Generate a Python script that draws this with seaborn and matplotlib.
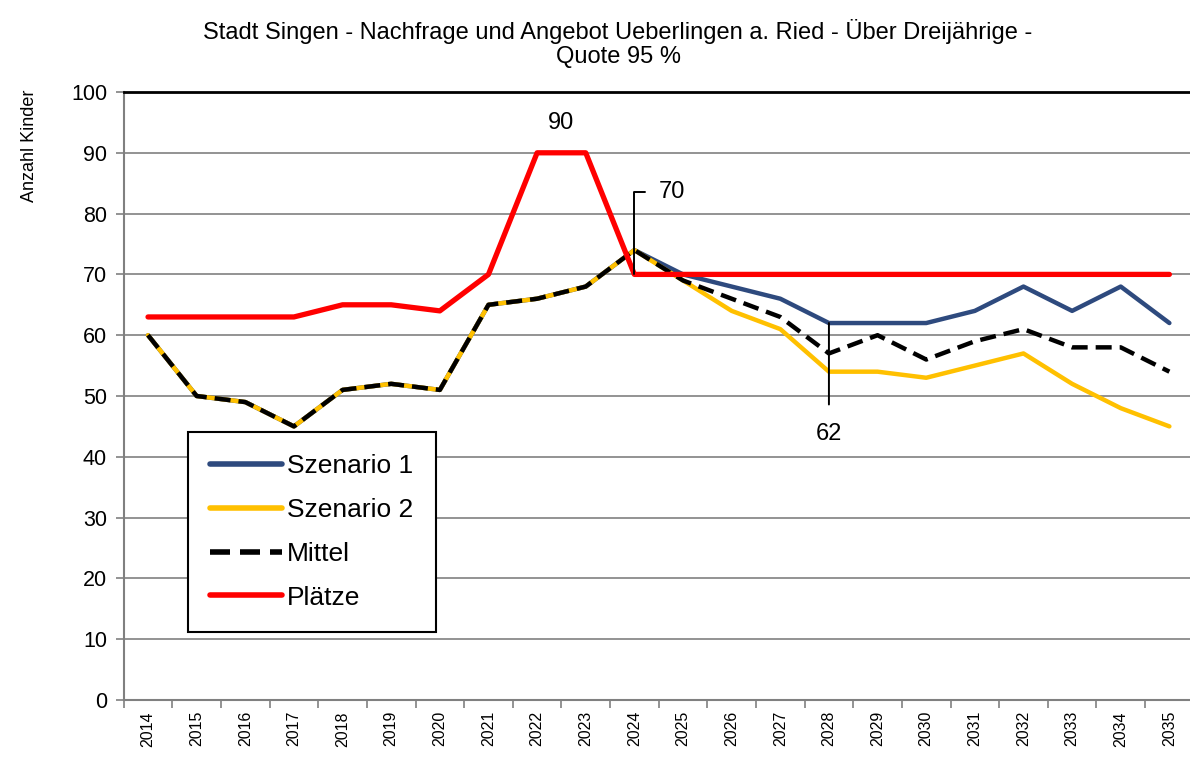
import pandas as pd
import matplotlib
matplotlib.use("Agg")
import matplotlib.pyplot as plt
import seaborn as sns

years = list(range(2014, 2036))
szenario1 = [60, 50, 49, 45, 51, 52, 51, 65, 66, 68, 74, 70, 68, 66, 62, 62, 62, 64, 68, 64, 68, 62]
szenario2 = [60, 50, 49, 45, 51, 52, 51, 65, 66, 68, 74, 69, 64, 61, 54, 54, 53, 55, 57, 52, 48, 45]
mittel = [60, 50, 49, 45, 51, 52, 51, 65, 66, 68, 74, 69, 66, 63, 57, 60, 56, 59, 61, 58, 58, 54]
plaetze = [63, 63, 63, 63, 65, 65, 64, 70, 90, 90, 70, 70, 70, 70, 70, 70, 70, 70, 70, 70, 70, 70]

df = pd.DataFrame({"Jahr": years, "Szenario 1": szenario1, "Szenario 2": szenario2,
                   "Mittel": mittel, "Plätze": plaetze})

sns.set_style("white")
plt.rcParams["font.family"] = ["Liberation Sans", "DejaVu Sans"]
plt.rcParams["text.color"] = "black"
plt.rcParams["xtick.color"] = "black"
plt.rcParams["ytick.color"] = "black"

fig = plt.figure(figsize=(11.9, 7.83), dpi=100)
ax = fig.add_axes([123.7 / 1190, 1 - 700 / 783, 1070 / 1190, 608 / 783])

sns.lineplot(data=df, x="Jahr", y="Szenario 1", color="#2E4A7E", lw=3.2, label="Szenario 1", ax=ax)
sns.lineplot(data=df, x="Jahr", y="Szenario 2", color="#FFC000", lw=3.2, label="Szenario 2", ax=ax)
sns.lineplot(data=df, x="Jahr", y="Mittel", color="black", lw=3.2, label="Mittel", ax=ax,
             linestyle=(0, (3.6, 1.8)))
sns.lineplot(data=df, x="Jahr", y="Plätze", color="#FF0000", lw=3.8, label="Plätze", ax=ax)

ax.set_xlim(years[0] - 0.5, years[-1] + 0.5)
ax.set_ylim(0, 100)
ax.set_yticks(range(0, 101, 10))
ax.set_xticks(years)
ax.set_xticklabels([str(y) for y in years], rotation=90, fontsize=11.5)
ax.set_xticks([y + 0.5 for y in [years[0] - 1] + years], minor=True)
ax.tick_params(axis="x", which="both", bottom=True)
ax.tick_params(axis="x", which="major", length=0, pad=8)
ax.tick_params(axis="x", which="minor", length=6, width=1.2, color="#808080", direction="out")
ax.tick_params(axis="y", left=True, length=6, width=1.2, color="#808080", direction="out",
               labelsize=15.5, labelcolor="black", pad=6)
ax.set_xlabel("")
ax.set_ylabel("")
ax.grid(axis="y", color="#808080", lw=1.2)
ax.set_axisbelow(True)

for s in ["left", "bottom"]:
    ax.spines[s].set_color("#808080")
    ax.spines[s].set_linewidth(1.5)
ax.spines["right"].set_visible(False)
ax.spines["top"].set_color("black")
ax.spines["top"].set_linewidth(2)

# data labels
i22 = years.index(2022)
ax.annotate(str(plaetze[i22]), xy=(2022.5, plaetze[i22]), xytext=(0, 30), textcoords="offset pixels",
            ha="center", va="center", fontsize=17)
i24 = years.index(2024)
ax.annotate(str(plaetze[i24]), xy=(2024, plaetze[i24]), xytext=(24, 82), textcoords="offset pixels",
            ha="left", va="center", fontsize=17,
            arrowprops=dict(arrowstyle="-", color="black", lw=1.4, shrinkA=7, shrinkB=0,
                            connectionstyle="angle,angleA=0,angleB=90,rad=0"))
i28 = years.index(2028)
ax.annotate(str(szenario1[i28]), xy=(2028, szenario1[i28]), xytext=(0, -111), textcoords="offset pixels",
            ha="center", va="center", fontsize=17,
            arrowprops=dict(arrowstyle="-", color="black", lw=1.4, shrinkA=11, shrinkB=0))

leg = ax.legend(loc="upper left", bbox_to_anchor=(0.06, 0.441), fontsize=19, frameon=True,
                fancybox=False, edgecolor="black", handlelength=2.7, labelspacing=0.75,
                borderpad=0.85, handletextpad=0.2, borderaxespad=0)
leg.get_frame().set_linewidth(1.5)
leg.get_frame().set_alpha(1)
for line in leg.get_lines():
    line.set_linewidth(4)

fig.suptitle("Stadt Singen - Nachfrage und Angebot Ueberlingen a. Ried - Über Dreijährige -\nQuote 95 %",
             x=618 / 1190, y=1 - 19 / 783, va="top", fontsize=17, linespacing=1.1)
fig.text(30 / 1190, 1 - 90 / 783, "Anzahl Kinder", rotation=90, ha="center", va="top", fontsize=13)

fig.savefig("out.png", dpi=100)
